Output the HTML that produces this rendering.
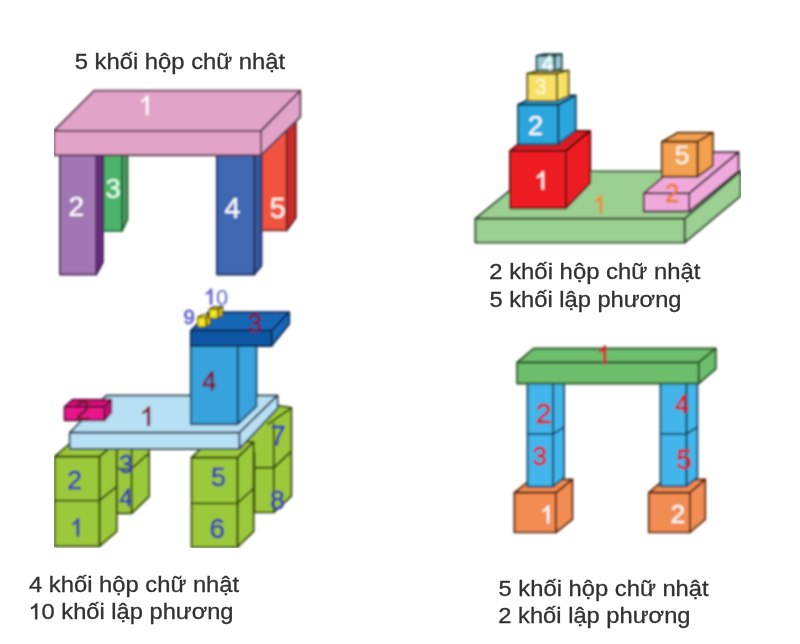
<!DOCTYPE html>
<html><head><meta charset="utf-8"><style>
html,body{margin:0;padding:0;background:#fff;}
svg{display:block;}
text{font-family:"Liberation Sans",sans-serif;}
</style></head><body>
<svg width="800" height="644" viewBox="0 0 800 644">
<defs><filter id="b" x="0" y="0" width="100%" height="100%"><feGaussianBlur stdDeviation="0.8"/></filter><filter id="b2" x="0" y="0" width="100%" height="100%"><feGaussianBlur stdDeviation="0.45"/></filter></defs>
<rect width="800" height="644" fill="#ffffff"/>
<g filter="url(#b)">
<polygon points="122.00,150.00 127.40,148.00 127.40,219.40 122.00,230.90" fill="#4e9e64" stroke="#1f6030" stroke-width="1.9" stroke-linejoin="round"/>
<polygon points="103.30,150.00 122.00,150.00 122.00,230.90 103.30,230.90" fill="#4cb46a" stroke="#1f6030" stroke-width="1.9" stroke-linejoin="round"/>
<polygon points="286.60,120.00 295.80,118.00 295.80,217.60 286.60,230.40" fill="#cc2a2c" stroke="#6a1a1a" stroke-width="1.9" stroke-linejoin="round"/>
<polygon points="261.40,150.00 286.60,125.00 286.60,230.40 261.40,230.40" fill="#f0533f" stroke="#7a2a20" stroke-width="1.9" stroke-linejoin="round"/>
<polygon points="96.20,150.00 102.80,150.00 102.80,262.30 96.20,274.50" fill="#6c2c80" stroke="#3e1a50" stroke-width="1.9" stroke-linejoin="round"/>
<polygon points="60.00,150.00 96.20,150.00 96.20,274.50 60.00,274.50" fill="#a077b3" stroke="#503060" stroke-width="1.9" stroke-linejoin="round"/>
<polygon points="254.20,150.00 261.40,150.00 261.40,265.80 254.20,274.50" fill="#3858a0" stroke="#18305e" stroke-width="1.9" stroke-linejoin="round"/>
<polygon points="217.00,150.00 254.20,150.00 254.20,274.50 217.00,274.50" fill="#4068b2" stroke="#1a2e60" stroke-width="1.9" stroke-linejoin="round"/>
<polygon points="54.00,131.00 94.30,90.60 300.30,90.60 261.00,131.00" fill="#e2a3c8" stroke="#5a3a50" stroke-width="1.9" stroke-linejoin="round"/>
<polygon points="261.00,131.00 300.30,90.60 300.30,116.80 261.00,155.30" fill="#e2a3c8" stroke="#5a3a50" stroke-width="1.9" stroke-linejoin="round"/>
<polygon points="54.00,131.00 261.00,131.00 261.00,155.30 54.00,155.30" fill="#e2a3c8" stroke="#5a3a50" stroke-width="1.9" stroke-linejoin="round"/>
<polygon points="148.44,114.90 146.05,114.90 146.05,99.65 144.69,100.87 142.92,101.88 141.26,102.59 141.26,100.33 143.46,99.16 145.23,97.61 146.59,95.40 148.44,95.40" fill="#ffffff" stroke="#ffffff" stroke-width="0.15" stroke-linejoin="round"/>
<text x="68.56" y="215.90" fill="#ffffff" stroke="#ffffff" stroke-width="0.15" font-size="28.00">2</text>
<text x="105.43" y="198.40" fill="#e8fff0" stroke="#e8fff0" stroke-width="0.15" font-size="27.36">3</text>
<text x="224.39" y="217.50" fill="#ffffff" stroke="#ffffff" stroke-width="0.15" font-size="28.57">4</text>
<text x="269.64" y="217.50" fill="#fff4ee" stroke="#fff4ee" stroke-width="0.15" font-size="28.57">5</text>
<polygon points="475.40,218.70 533.50,171.40 740.50,171.40 684.60,218.70" fill="#9ccf92" stroke="#2c4c2c" stroke-width="1.9" stroke-linejoin="round"/>
<polygon points="684.60,218.70 740.50,171.40 740.50,196.00 684.60,242.60" fill="#9ccf92" stroke="#2c4c2c" stroke-width="1.9" stroke-linejoin="round"/>
<polygon points="475.40,218.70 684.60,218.70 684.60,242.60 475.40,242.60" fill="#9ccf92" stroke="#2c4c2c" stroke-width="1.9" stroke-linejoin="round"/>
<polygon points="601.82,213.50 599.61,213.50 599.61,199.42 598.35,200.55 596.72,201.48 595.18,202.14 595.18,200.05 597.22,198.97 598.85,197.54 600.11,195.50 601.82,195.50" fill="#e8912e" stroke="#e8912e" stroke-width="0.8" stroke-linejoin="round"/>
<polygon points="510.00,151.00 534.00,131.00 590.20,131.00 566.00,151.00" fill="#d81a20" stroke="#5a0e0e" stroke-width="1.9" stroke-linejoin="round"/>
<polygon points="566.00,151.00 590.20,131.00 590.20,183.00 566.00,208.20" fill="#ec1c24" stroke="#5a0e0e" stroke-width="1.9" stroke-linejoin="round"/>
<polygon points="510.00,151.00 566.00,151.00 566.00,208.20 510.00,208.20" fill="#ec1c24" stroke="#5a0e0e" stroke-width="1.9" stroke-linejoin="round"/>
<polygon points="543.82,189.50 541.61,189.50 541.61,175.42 540.35,176.55 538.72,177.48 537.18,178.14 537.18,176.05 539.22,174.97 540.85,173.54 542.11,171.50 543.82,171.50" fill="#ffffff" stroke="#ffffff" stroke-width="0.15" stroke-linejoin="round"/>
<polygon points="518.10,104.80 536.00,95.50 575.60,95.50 558.20,104.80" fill="#2ca6de" stroke="#123650" stroke-width="1.9" stroke-linejoin="round"/>
<polygon points="558.20,104.80 575.60,95.50 575.60,130.50 558.20,144.30" fill="#2ca6de" stroke="#123650" stroke-width="1.9" stroke-linejoin="round"/>
<polygon points="518.10,104.80 558.20,104.80 558.20,144.50 518.10,144.50" fill="#2ca6de" stroke="#123650" stroke-width="1.9" stroke-linejoin="round"/>
<text x="527.96" y="135.30" fill="#ffffff" stroke="#ffffff" stroke-width="0.15" font-size="27.29">2</text>
<polygon points="527.40,73.70 538.00,70.60 568.60,70.60 556.90,73.70" fill="#f7e064" stroke="#5a5218" stroke-width="1.9" stroke-linejoin="round"/>
<polygon points="556.90,73.70 568.60,70.60 568.60,96.20 556.90,100.90" fill="#f7e064" stroke="#5a5218" stroke-width="1.9" stroke-linejoin="round"/>
<polygon points="527.40,73.70 556.90,73.70 556.90,100.90 527.40,100.90" fill="#f7e064" stroke="#5a5218" stroke-width="1.9" stroke-linejoin="round"/>
<text x="534.59" y="94.20" fill="#fff8d0" stroke="#fff8d0" stroke-width="0.15" font-size="21.86">3</text>
<polygon points="536.70,56.00 543.00,54.30 561.60,54.30 554.60,56.00" fill="#98ccd2" stroke="#22404a" stroke-width="1.9" stroke-linejoin="round"/>
<polygon points="554.60,56.00 561.60,54.30 561.60,68.50 554.60,70.60" fill="#98ccd2" stroke="#22404a" stroke-width="1.9" stroke-linejoin="round"/>
<polygon points="536.70,56.00 554.60,56.00 554.60,70.60 536.70,70.60" fill="#98ccd2" stroke="#22404a" stroke-width="1.9" stroke-linejoin="round"/>
<text x="542.04" y="70.10" fill="#f4ffff" stroke="#f4ffff" stroke-width="0.7" font-size="20.57">4</text>
<polygon points="643.80,193.40 692.00,152.20 738.50,152.20 689.10,193.40" fill="#efaadb" stroke="#4a2840" stroke-width="1.9" stroke-linejoin="round"/>
<polygon points="689.10,193.40 738.50,152.20 738.50,171.00 689.10,211.50" fill="#efaadb" stroke="#4a2840" stroke-width="1.9" stroke-linejoin="round"/>
<polygon points="643.80,193.40 689.10,193.40 689.10,211.50 643.80,211.50" fill="#efaadb" stroke="#4a2840" stroke-width="1.9" stroke-linejoin="round"/>
<text x="664.88" y="202.00" fill="#f07830" stroke="#f07830" stroke-width="0.8" font-size="25.43">2</text>
<polygon points="661.90,141.80 678.00,132.70 712.80,132.70 697.50,141.80" fill="#f3a04f" stroke="#5a3010" stroke-width="1.9" stroke-linejoin="round"/>
<polygon points="697.50,141.80 712.80,132.70 712.80,165.50 697.50,176.70" fill="#f3a04f" stroke="#5a3010" stroke-width="1.9" stroke-linejoin="round"/>
<polygon points="661.90,141.80 697.50,141.80 697.50,176.70 661.90,176.70" fill="#f3a04f" stroke="#5a3010" stroke-width="1.9" stroke-linejoin="round"/>
<text x="674.83" y="163.60" fill="#fff8ee" stroke="#fff8ee" stroke-width="0.15" font-size="26.43">5</text>
<polygon points="116.70,445.00 149.00,445.00 149.00,496.50 131.60,513.30 116.70,513.30" fill="#9cc93a" stroke="#34480a" stroke-width="1.9" stroke-linejoin="round"/>
<line x1="131.60" y1="445.00" x2="131.60" y2="513.30" stroke="#34480a" stroke-width="1.9"/>
<polyline points="116.70,468.60 131.60,468.60 149.00,453.00" fill="none" stroke="#34480a" stroke-width="1.9" stroke-linejoin="round"/>
<polygon points="54.70,456.80 72.00,441.90 116.70,441.90 99.40,456.80" fill="#9cc93a" stroke="#34480a" stroke-width="1.9" stroke-linejoin="round"/>
<polygon points="99.40,456.80 116.70,441.90 116.70,531.30 99.40,546.20" fill="#9cc93a" stroke="#34480a" stroke-width="1.9" stroke-linejoin="round"/>
<polygon points="54.70,456.80 99.40,456.80 99.40,546.20 54.70,546.20" fill="#9cc93a" stroke="#34480a" stroke-width="1.9" stroke-linejoin="round"/>
<polyline points="54.70,500.60 99.40,500.60 116.70,486.60" fill="none" stroke="#34480a" stroke-width="1.9" stroke-linejoin="round"/>
<polygon points="240.00,452.00 240.00,430.00 266.00,404.00 291.30,407.60 291.30,496.00 273.80,512.40 254.40,512.40 254.40,452.00" fill="#9cc93a" stroke="#34480a" stroke-width="1.9" stroke-linejoin="round"/>
<line x1="273.80" y1="423.00" x2="273.80" y2="512.40" stroke="#34480a" stroke-width="1.9"/>
<line x1="267.50" y1="424.50" x2="291.30" y2="408.00" stroke="#34480a" stroke-width="1.9"/>
<polyline points="254.40,467.80 273.80,467.80 291.30,451.30" fill="none" stroke="#34480a" stroke-width="1.9" stroke-linejoin="round"/>
<polygon points="191.60,457.70 207.80,441.90 253.60,441.90 237.40,457.70" fill="#9cc93a" stroke="#34480a" stroke-width="1.9" stroke-linejoin="round"/>
<polygon points="237.40,457.70 253.60,441.90 253.60,531.30 237.40,547.10" fill="#9cc93a" stroke="#34480a" stroke-width="1.9" stroke-linejoin="round"/>
<polygon points="191.60,457.70 237.40,457.70 237.40,547.10 191.60,547.10" fill="#9cc93a" stroke="#34480a" stroke-width="1.9" stroke-linejoin="round"/>
<polyline points="191.60,503.40 237.40,503.40 253.60,488.40" fill="none" stroke="#34480a" stroke-width="1.9" stroke-linejoin="round"/>
<polygon points="69.80,432.70 106.50,395.50 277.50,395.50 239.30,432.70" fill="#b8e0f4" stroke="#36485a" stroke-width="1.9" stroke-linejoin="round"/>
<polygon points="239.30,432.70 277.50,395.50 277.80,408.00 239.30,449.00" fill="#b8e0f4" stroke="#36485a" stroke-width="1.9" stroke-linejoin="round"/>
<polygon points="69.80,432.70 239.30,432.70 239.30,449.00 69.80,449.00" fill="#b8e0f4" stroke="#36485a" stroke-width="1.9" stroke-linejoin="round"/>
<polygon points="64.60,407.00 72.50,399.70 111.20,399.70 104.60,407.00" fill="#d01078" stroke="#6a1040" stroke-width="1.9" stroke-linejoin="round"/>
<polygon points="104.60,407.00 111.20,399.70 111.20,412.50 104.60,420.20" fill="#d01078" stroke="#6a1040" stroke-width="1.9" stroke-linejoin="round"/>
<polygon points="64.60,407.00 104.60,407.00 104.60,420.20 64.60,420.20" fill="#e8128a" stroke="#6a1040" stroke-width="1.9" stroke-linejoin="round"/>
<text x="75.20" y="420.10" fill="#7a1438" stroke="#7a1438" stroke-width="0.8" font-size="27.14">2</text>
<polygon points="149.75,425.75 147.42,425.75 147.42,410.89 146.09,412.08 144.37,413.07 142.75,413.76 142.75,411.55 144.90,410.41 146.62,408.90 147.95,406.75 149.75,406.75" fill="#7a1438" stroke="#7a1438" stroke-width="0.8" stroke-linejoin="round"/>
<polygon points="237.70,346.00 256.50,330.00 256.50,406.30 237.70,424.30" fill="#38a2dc" stroke="#184868" stroke-width="1.9" stroke-linejoin="round"/>
<polygon points="190.80,346.00 237.70,346.00 237.70,424.30 190.80,424.30" fill="#38a2dc" stroke="#184868" stroke-width="1.9" stroke-linejoin="round"/>
<text x="202.15" y="389.50" fill="#7a1438" stroke="#7a1438" stroke-width="0.8" font-size="25.29">4</text>
<polygon points="190.80,330.80 208.60,312.20 289.20,312.20 271.50,330.80" fill="#1866b6" stroke="#0a2e5c" stroke-width="1.9" stroke-linejoin="round"/>
<polygon points="271.50,330.80 289.20,312.20 289.20,323.80 271.50,346.00" fill="#1866b6" stroke="#0a2e5c" stroke-width="1.9" stroke-linejoin="round"/>
<polygon points="190.80,330.80 271.50,330.80 271.50,346.00 190.80,346.00" fill="#0f56a4" stroke="#0a2e5c" stroke-width="1.9" stroke-linejoin="round"/>
<text x="247.80" y="331.70" fill="#7a1438" stroke="#7a1438" stroke-width="0.8" font-size="25.29">3</text>
<polygon points="197.60,317.50 202.20,314.50 210.60,314.50 206.00,317.50" fill="#d8cc30" stroke="#3a3608" stroke-width="1.1" stroke-linejoin="round"/>
<polygon points="206.00,317.50 210.60,314.50 210.60,324.00 206.00,327.00" fill="#c8b820" stroke="#3a3608" stroke-width="1.1" stroke-linejoin="round"/>
<polygon points="197.60,317.50 206.00,317.50 206.00,327.00 197.60,327.00" fill="#f4e41c" stroke="#3a3608" stroke-width="1.1" stroke-linejoin="round"/>
<polygon points="209.20,309.20 213.90,306.60 222.70,306.60 218.00,309.20" fill="#d8cc30" stroke="#3a3608" stroke-width="1.1" stroke-linejoin="round"/>
<polygon points="218.00,309.20 222.70,306.60 222.70,315.70 218.00,318.30" fill="#c8b820" stroke="#3a3608" stroke-width="1.1" stroke-linejoin="round"/>
<polygon points="209.20,309.20 218.00,309.20 218.00,318.30 209.20,318.30" fill="#f4e41c" stroke="#3a3608" stroke-width="1.1" stroke-linejoin="round"/>
<text x="183.38" y="323.60" fill="#6464cc" stroke="#6464cc" stroke-width="0.8" font-size="20.43">9</text>
<polygon points="212.00,304.50 210.08,304.50 210.08,292.26 208.99,293.24 207.57,294.05 206.23,294.62 206.23,292.81 208.00,291.87 209.42,290.62 210.52,288.85 212.00,288.85" fill="#6464cc" stroke="#6464cc" stroke-width="0.8" stroke-linejoin="round"/>
<text x="216.00" y="304.50" fill="#6464cc" font-size="21.86">0</text>
<text x="67.36" y="488.90" fill="#3a48aa" stroke="#3a48aa" stroke-width="0.8" font-size="26.57">2</text>
<polygon points="79.02,536.50 76.81,536.50 76.81,522.42 75.55,523.55 73.92,524.48 72.38,525.14 72.38,523.05 74.42,521.97 76.05,520.54 77.31,518.50 79.02,518.50" fill="#3a48aa" stroke="#3a48aa" stroke-width="0.8" stroke-linejoin="round"/>
<text x="118.88" y="473.00" fill="#3a48aa" stroke="#3a48aa" stroke-width="0.8" font-size="25.00">3</text>
<text x="119.57" y="506.00" fill="#3a48aa" stroke="#3a48aa" stroke-width="0.8" font-size="23.57">4</text>
<text x="210.89" y="486.10" fill="#3a48aa" stroke="#3a48aa" stroke-width="0.8" font-size="26.57">5</text>
<text x="209.47" y="538.25" fill="#3a48aa" stroke="#3a48aa" stroke-width="0.8" font-size="27.79">6</text>
<text x="270.82" y="445.20" fill="#3a48aa" stroke="#3a48aa" stroke-width="0.8" font-size="26.71">7</text>
<text x="270.04" y="508.50" fill="#3a48aa" stroke="#3a48aa" stroke-width="0.8" font-size="26.57">8</text>
<polygon points="514.40,492.70 530.90,479.50 572.40,479.50 555.90,492.70" fill="#f28c52" stroke="#5a2a10" stroke-width="1.9" stroke-linejoin="round"/>
<polygon points="555.90,492.70 572.40,479.50 572.40,519.20 555.90,532.40" fill="#f28c52" stroke="#5a2a10" stroke-width="1.9" stroke-linejoin="round"/>
<polygon points="514.40,492.70 555.90,492.70 555.90,532.40 514.40,532.40" fill="#f28c52" stroke="#5a2a10" stroke-width="1.9" stroke-linejoin="round"/>
<polygon points="648.90,492.70 664.20,479.50 705.20,479.50 689.90,492.70" fill="#f28c52" stroke="#5a2a10" stroke-width="1.9" stroke-linejoin="round"/>
<polygon points="689.90,492.70 705.20,479.50 705.20,519.20 689.90,532.40" fill="#f28c52" stroke="#5a2a10" stroke-width="1.9" stroke-linejoin="round"/>
<polygon points="648.90,492.70 689.90,492.70 689.90,532.40 648.90,532.40" fill="#f28c52" stroke="#5a2a10" stroke-width="1.9" stroke-linejoin="round"/>
<polygon points="553.10,383.00 564.00,378.00 564.00,477.50 553.10,486.70" fill="#42b6ea" stroke="#184866" stroke-width="1.9" stroke-linejoin="round"/>
<polygon points="527.50,383.00 553.10,383.00 553.10,486.70 527.50,486.70" fill="#42b6ea" stroke="#184866" stroke-width="1.9" stroke-linejoin="round"/>
<polyline points="527.50,434.00 553.10,434.00 564.00,427.00" fill="none" stroke="#184866" stroke-width="1.9" stroke-linejoin="round"/>
<polygon points="686.40,383.00 697.40,378.00 697.40,477.50 686.40,486.20" fill="#42b6ea" stroke="#184866" stroke-width="1.9" stroke-linejoin="round"/>
<polygon points="660.50,383.00 686.40,383.00 686.40,486.20 660.50,486.20" fill="#42b6ea" stroke="#184866" stroke-width="1.9" stroke-linejoin="round"/>
<polyline points="660.50,434.00 686.40,434.00 697.40,427.00" fill="none" stroke="#184866" stroke-width="1.9" stroke-linejoin="round"/>
<polygon points="517.10,362.50 533.70,348.50 715.80,348.50 698.70,362.50" fill="#6cbd6c" stroke="#2a562a" stroke-width="1.9" stroke-linejoin="round"/>
<polygon points="698.70,362.50 715.80,348.50 715.80,368.70 698.70,383.50" fill="#6cbd6c" stroke="#2a562a" stroke-width="1.9" stroke-linejoin="round"/>
<polygon points="517.10,362.50 698.70,362.50 698.70,383.50 517.10,383.50" fill="#6cbd6c" stroke="#2a562a" stroke-width="1.9" stroke-linejoin="round"/>
<polygon points="605.84,364.30 603.58,364.30 603.58,349.91 602.30,351.07 600.63,352.02 599.06,352.68 599.06,350.55 601.14,349.45 602.81,347.98 604.09,345.90 605.84,345.90" fill="#d02238" stroke="#d02238" stroke-width="0.8" stroke-linejoin="round"/>
<text x="535.84" y="423.30" fill="#d02238" stroke="#d02238" stroke-width="0.8" font-size="28.43">2</text>
<text x="532.29" y="464.50" fill="#d02238" stroke="#d02238" stroke-width="0.8" font-size="26.57">3</text>
<text x="675.05" y="413.20" fill="#d02238" stroke="#d02238" stroke-width="0.8" font-size="25.29">4</text>
<text x="676.19" y="468.80" fill="#d02238" stroke="#d02238" stroke-width="0.8" font-size="27.86">5</text>
<polygon points="549.23,523.40 547.04,523.40 547.04,509.48 545.80,510.60 544.18,511.52 542.67,512.16 542.67,510.10 544.68,509.03 546.30,507.61 547.54,505.60 549.23,505.60" fill="#ffffff" stroke="#ffffff" stroke-width="0.15" stroke-linejoin="round"/>
<text x="670.41" y="523.40" fill="#ffffff" stroke="#ffffff" stroke-width="0.15" font-size="26.57">2</text>
</g>
<g filter="url(#b2)">
<text x="74.70" y="68.60" fill="#303030" stroke="#303030" stroke-width="0.3" font-size="22" textLength="210.46" lengthAdjust="spacingAndGlyphs">5 khối hộp chữ nhật</text>
<text x="489.21" y="279.30" fill="#303030" stroke="#303030" stroke-width="0.3" font-size="22" textLength="211.25" lengthAdjust="spacingAndGlyphs">2 khối hộp chữ nhật</text>
<text x="489.45" y="306.80" fill="#303030" stroke="#303030" stroke-width="0.3" font-size="22" textLength="192.07" lengthAdjust="spacingAndGlyphs">5 khối lập phương</text>
<text x="29.02" y="592.20" fill="#303030" stroke="#303030" stroke-width="0.3" font-size="22" textLength="210.13" lengthAdjust="spacingAndGlyphs">4 khối hộp chữ nhật</text>
<polygon points="37.25,619.30 35.17,619.30 35.17,606.98 33.98,607.97 32.44,608.78 31.00,609.36 31.00,607.53 32.92,606.58 34.46,605.33 35.64,603.55 37.25,603.55" fill="#303030" stroke="#303030" stroke-width="0.3" stroke-linejoin="round"/><text x="41.58" y="619.30" fill="#303030" stroke="#303030" stroke-width="0.3" font-size="22" textLength="191.95" lengthAdjust="spacingAndGlyphs">0 khối lập phương</text>
<text x="498.55" y="596.40" fill="#303030" stroke="#303030" stroke-width="0.3" font-size="22" textLength="210.11" lengthAdjust="spacingAndGlyphs">5 khối hộp chữ nhật</text>
<text x="498.31" y="623.30" fill="#303030" stroke="#303030" stroke-width="0.3" font-size="22" textLength="192.21" lengthAdjust="spacingAndGlyphs">2 khối lập phương</text>
</g>
</svg>
</body></html>
